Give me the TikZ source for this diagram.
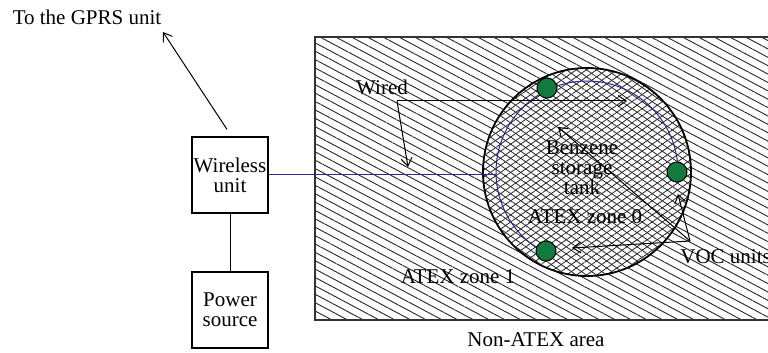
\documentclass[tikz,border=0pt]{standalone}
\usepackage{fontspec}
\setmainfont{Liberation Serif}
\usepackage{xcolor}
\usetikzlibrary{arrows.meta, patterns.meta, positioning, calc}
\definecolor{VocGreen}{RGB}{18,122,62}
\definecolor{WireBlue}{RGB}{42,42,138}
\tikzset{
  >={Straight Barb[length=4pt,width=5.5pt]},  % punte aperte
  every node/.style={font=\fontsize{10.5}{10}\selectfont},
  % blocchi e zone
  block/.style={draw,line width=0.6pt,minimum width=38pt,minimum height=38pt,inner sep=0pt,align=center},
  zone one/.style={pattern={Lines[angle=-28,distance=3.7pt,line width=0.45pt]},pattern color=black!85},
  zone zero/.style={circle,draw,line width=0.9pt,minimum size=104pt,inner sep=0pt,
    preaction={fill=white},
    pattern={Lines[angle=35,distance=2.9pt,line width=0.4pt]},pattern color=black!85,
    postaction={pattern={Lines[angle=-35,distance=2.9pt,line width=0.4pt]},pattern color=black!85}},
  voc/.style={circle,draw,line width=0.5pt,fill=VocGreen,minimum size=10pt,inner sep=0pt},
  % connessioni
  wire/.style={WireBlue,line width=0.5pt},
  connect/.style={line width=0.5pt},
  connect arrow/.style={->,line width=0.5pt},
  tag/.style={inner sep=0pt,align=center}
}

\begin{document}
\begin{tikzpicture}[x=0.5pt,y=-0.5pt]
  \useasboundingbox (0,0) rectangle (768,353);
  % non-ATEX area, zone 1
  \path[zone one] (315,37) rectangle (772,320);
  \draw[line width=0.7pt,black!80] (772,37) -| (315,320) -- (772,320);
  % tank
  \node[zone zero] (tank) at (587,172) {};
  \draw[wire] ($(tank.center)+(0:91)$) arc[start angle=0,end angle=-243,radius=91];
  \node[voc] (voc1) at (547,88) {};
  \node[voc] (voc2) at (677,172) {};
  \node[voc] (voc3) at (546,251) {};
  % units
  \node[block] (wireless) at (230,175) {Wireless\\unit};
  \node[block] (power) at (230,310) {Power\\source};
  \coordinate (wirejoin) at (496,175);
  \draw[connect] (wireless) -- (power);
  \draw[wire] (wireless.east) -- (wirejoin);
  \node[tag] (gprs) at (87,17) {To the GPRS unit};
  \coordinate (gprstip) at (163,32);
  \draw[connect arrow] ([xshift=-1.5pt,yshift=3.5pt]wireless.north) -- (gprstip);
  % labels
  \node[tag] (wired) at (382,87) {Wired};
  \node[tag] (benzene) at (582,168) {Benzene\\storage\\tank};
  \node[tag] (zone0) at (585,217) {ATEX zone 0};
  \node[tag] (zone1) at (458,277) {ATEX zone 1};
  \node[tag,anchor=west] (voclabel) at (680,257) {VOC units};
  \node[tag] (nonatex) at (536,340) {Non-ATEX area};
  % wired arrows
  \coordinate (wiredfork) at (397,101);
  \draw[connect arrow] (wiredfork) -- (627,101);
  \draw[connect arrow] (wiredfork) -- (408,167);
  % VOC arrows
  \coordinate (vocfork) at (690,241);
  \draw[connect arrow] (vocfork) -- (558,127);
  \draw[connect arrow] (vocfork) -- (678,194);
  \draw[connect arrow] (vocfork) -- (572,248);
\end{tikzpicture}
\end{document}
